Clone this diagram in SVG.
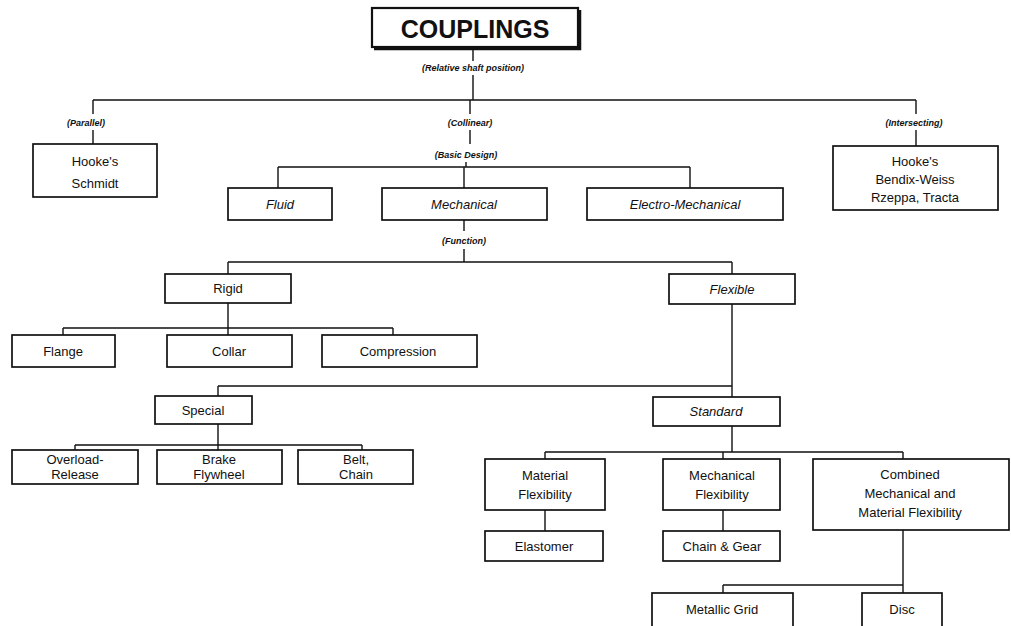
<svg xmlns="http://www.w3.org/2000/svg" width="1011" height="626" viewBox="0 0 1011 626">
<style>
text{font-family:"Liberation Sans",Arial,sans-serif;fill:#111;text-anchor:middle}
.t{font-size:13px}
.i{font-style:italic}
.lab{font-size:9px;font-weight:bold;font-style:italic}
.box{fill:#fff;stroke:#111;stroke-width:1.7}
.c{fill:none;stroke:#111;stroke-width:1.4}
</style>
<rect width="1011" height="626" fill="#fff"/>
<g id="connectors">
<path class="c" d="M473 47V61M473 75V100M93 100H916M93 100V114M93 130V144M470 100V114M470 130V144M916 100V114M916 130V146"/>
<path class="c" d="M466 162V167M278 167H690M278 167V188M464 167V188M690 167V188"/>
<path class="c" d="M464 220V231M464 249V262M228 262H732M228 262V274M732 262V274"/>
<path class="c" d="M228 303V328M63 328H393M63 328V335M228 328V335M393 328V335"/>
<path class="c" d="M732 304V397M218 386H732M218 386V396"/>
<path class="c" d="M218 424V445M75 445H362M75 445V450M218 445V450M362 445V450"/>
<path class="c" d="M732 426V452M545 452H903M545 452V459M723 452V459M903 452V459"/>
<path class="c" d="M545 510V531M723 510V531M903 530V585M723 585H903M723 585V593M903 585V593"/>
</g>
<g id="labels">
<text class="lab" x="473" y="71">(Relative shaft position)</text>
<text class="lab" x="86" y="126">(Parallel)</text>
<text class="lab" x="470" y="126">(Collinear)</text>
<text class="lab" x="914" y="126">(Intersecting)</text>
<text class="lab" x="466" y="158">(Basic Design)</text>
<text class="lab" x="464" y="244">(Function)</text>
</g>
<g id="couplings">
<rect x="372" y="8" width="206" height="39" fill="#fff" stroke="#111" stroke-width="2.2"/>
<path d="M580 10V49H374" fill="none" stroke="#111" stroke-width="2.5"/>
<text x="475" y="38" style="font-size:25px;font-weight:bold">COUPLINGS</text>
</g>
<g id="n-parallel"><rect class="box" x="33" y="144" width="124" height="53"/><text class="t" x="95" y="166">Hooke's</text><text class="t" x="95" y="188">Schmidt</text></g>
<g id="n-intersecting"><rect class="box" x="833" y="146" width="165" height="64"/><text class="t" x="915" y="166">Hooke's</text><text class="t" x="915" y="184">Bendix-Weiss</text><text class="t" x="915" y="202">Rzeppa, Tracta</text></g>
<g id="n-fluid"><rect class="box" x="228" y="188" width="104" height="32"/><text class="t i" x="280" y="209">Fluid</text></g>
<g id="n-mechanical"><rect class="box" x="382" y="188" width="165" height="32"/><text class="t i" x="464" y="209">Mechanical</text></g>
<g id="n-electro"><rect class="box" x="587" y="188" width="196" height="32"/><text class="t i" x="685" y="209">Electro-Mechanical</text></g>
<g id="n-rigid"><rect class="box" x="165" y="274" width="126" height="29"/><text class="t" x="228" y="293">Rigid</text></g>
<g id="n-flexible"><rect class="box" x="669" y="274" width="126" height="30"/><text class="t i" x="732" y="294">Flexible</text></g>
<g id="n-flange"><rect class="box" x="12" y="335" width="103" height="32"/><text class="t" x="63" y="356">Flange</text></g>
<g id="n-collar"><rect class="box" x="167" y="335" width="125" height="32"/><text class="t" x="229" y="356">Collar</text></g>
<g id="n-compression"><rect class="box" x="322" y="335" width="155" height="32"/><text class="t" x="398" y="356">Compression</text></g>
<g id="n-special"><rect class="box" x="155" y="396" width="97" height="28"/><text class="t" x="203" y="415">Special</text></g>
<g id="n-standard"><rect class="box" x="653" y="397" width="127" height="29"/><text class="t i" x="716" y="416">Standard</text></g>
<g id="n-overload"><rect class="box" x="12" y="450" width="126" height="34"/><text class="t" x="75" y="464">Overload-</text><text class="t" x="75" y="479">Release</text></g>
<g id="n-brake"><rect class="box" x="157" y="450" width="125" height="34"/><text class="t" x="219" y="464">Brake</text><text class="t" x="219" y="479">Flywheel</text></g>
<g id="n-belt"><rect class="box" x="298" y="450" width="115" height="34"/><text class="t" x="356" y="464">Belt,</text><text class="t" x="356" y="479">Chain</text></g>
<g id="n-matflex"><rect class="box" x="485" y="459" width="120" height="51"/><text class="t" x="545" y="480">Material</text><text class="t" x="545" y="499">Flexibility</text></g>
<g id="n-mechflex"><rect class="box" x="663" y="459" width="117" height="51"/><text class="t" x="722" y="480">Mechanical</text><text class="t" x="722" y="499">Flexibility</text></g>
<g id="n-combined"><rect class="box" x="813" y="459" width="196" height="71"/><text class="t" x="910" y="479">Combined</text><text class="t" x="910" y="498">Mechanical and</text><text class="t" x="910" y="517">Material Flexibility</text></g>
<g id="n-elastomer"><rect class="box" x="485" y="531" width="118" height="30"/><text class="t" x="544" y="551">Elastomer</text></g>
<g id="n-chaingear"><rect class="box" x="663" y="531" width="117" height="30"/><text class="t" x="722" y="551">Chain &amp; Gear</text></g>
<g id="n-metallic"><rect class="box" x="652" y="593" width="141" height="40"/><text class="t" x="722" y="614">Metallic Grid</text></g>
<g id="n-disc"><rect class="box" x="862" y="593" width="80" height="40"/><text class="t" x="902" y="614">Disc</text></g>
</svg>
